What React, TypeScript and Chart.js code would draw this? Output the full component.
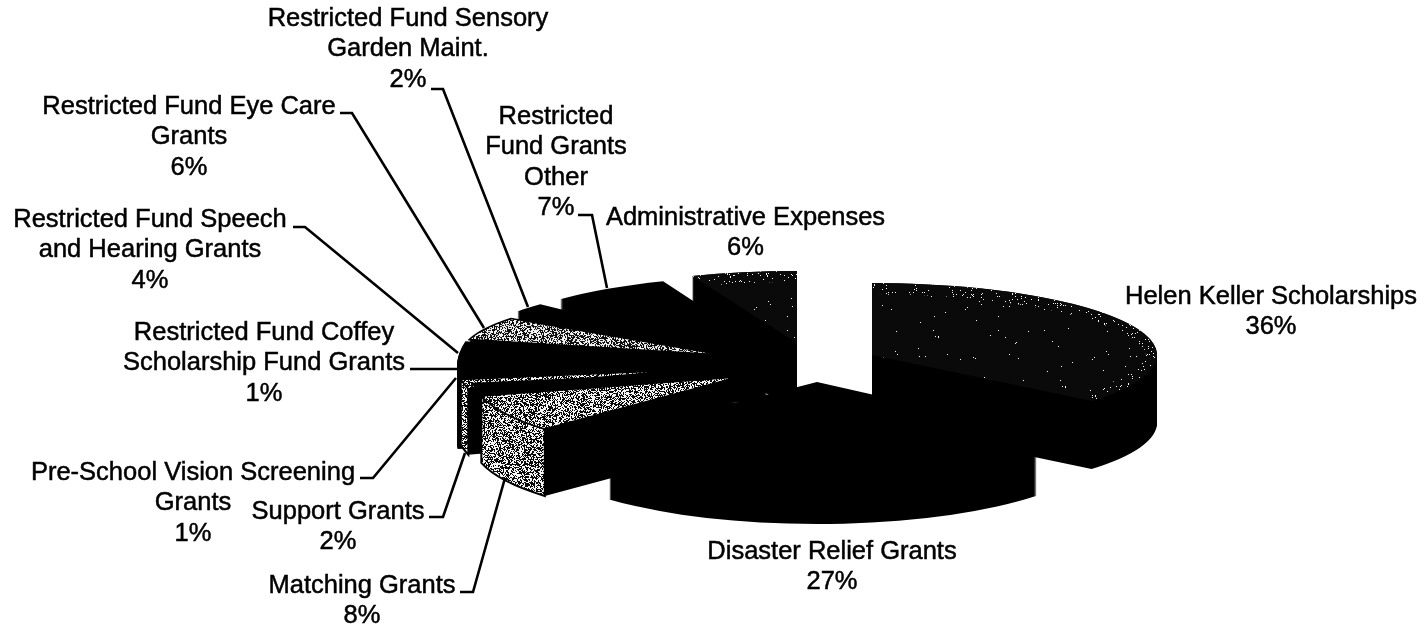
import React, { useEffect, useRef } from "react";
import { Chart, registerables } from "chart.js";

Chart.register(...registerables);

const categories = [
  "Helen Keller Scholarships", "Disaster Relief Grants", "Matching Grants", "Support Grants",
  "Pre-School Vision Screening Grants", "Restricted Fund Coffey Scholarship Fund Grants",
  "Restricted Fund Speech and Hearing Grants", "Restricted Fund Eye Care Grants",
  "Restricted Fund Sensory Garden Maint.", "Restricted Fund Grants Other", "Administrative Expenses",
];
const shares = [36, 27, 8, 2, 1, 1, 4, 6, 2, 7, 6];

// 3D look of every slice: apex, radii, extrusion depth, shear, fill kind
const sliceLook = [
  { ax: 872, ay: 355, rx: 285, ry: 72, depth: 68, shear: 0, fill: "sparse", rim: false },
  { ax: 817, ay: 382, rx: 285, ry: 78, depth: 64, shear: 0, fill: "black", rim: false },
  { ax: 738, ay: 377, rx: 265, ry: 76, depth: 67, shear: 0, fill: "grey", rim: true },
  { ax: 715, ay: 372, rx: 245, ry: 85, depth: 60, shear: 0, fill: "black", rim: false },
  { ax: 684, ay: 370, rx: 230, ry: 150, depth: 66, shear: 100, fill: "grey", rim: true },
  { ax: 725, ay: 369, rx: 268, ry: 160, depth: 70, shear: 0, fill: "black", rim: false },
  { ax: 725, ay: 366, rx: 268, ry: 100, depth: 20, shear: 0, fill: "black", rim: false },
  { ax: 723, ay: 355, rx: 262, ry: 62, depth: 20, shear: 0, fill: "grey", rim: false },
  { ax: 748, ay: 355, rx: 285, ry: 74, depth: 60, shear: 0, fill: "black", rim: false },
  { ax: 768, ay: 350, rx: 285, ry: 74, depth: 60, shear: 0, fill: "black", rim: false },
  { ax: 797, ay: 343, rx: 285, ry: 72, depth: 70, shear: 0, fill: "sparse", rim: false },
];
const drawOrder = [10, 9, 8, 7, 6, 5, 4, 3, 1, 2, 0];

const labelBlocks = [
  { lines: ["Helen Keller Scholarships", "36%"], cx: 1271, y: 297, leader: [] as number[][] },
  { lines: ["Disaster Relief Grants", "27%"], cx: 832, y: 552, leader: [] as number[][] },
  { lines: ["Matching Grants", "8%"], cx: 362, y: 586, leader: [[460, 592], [473, 592], [505, 478]] },
  { lines: ["Support Grants", "2%"], cx: 338, y: 512, leader: [[429, 517], [443, 517], [465, 453]] },
  { lines: ["Pre-School Vision Screening", "Grants", "1%"], cx: 193, y: 473, leader: [[360, 478], [373, 478], [456, 378]] },
  { lines: ["Restricted Fund Coffey", "Scholarship Fund Grants", "1%"], cx: 264, y: 333, leader: [[410, 369], [425, 369], [458, 369]] },
  { lines: ["Restricted Fund Speech", "and Hearing Grants", "4%"], cx: 150, y: 220, leader: [[293, 227], [305, 227], [458, 353]] },
  { lines: ["Restricted Fund Eye Care", "Grants", "6%"], cx: 189, y: 107, leader: [[340, 113], [352, 113], [484, 328]] },
  { lines: ["Restricted Fund Sensory", "Garden Maint.", "2%"], cx: 408, y: 19, leader: [[431, 89], [443, 89], [528, 307]] },
  { lines: ["Restricted", "Fund Grants", "Other", "7%"], cx: 556, y: 117, leader: [[578, 215], [592, 215], [607, 288]] },
  { lines: ["Administrative Expenses", "6%"], cx: 745.5, y: 218, leader: [] as number[][] },
];

const FONT = '25.5px "Liberation Sans", Arial, sans-serif';
const LINE_STEP = 30.3;

function noiseTile(ctx: CanvasRenderingContext2D, blackShare: number, salt: number) {
  const size = 211;
  const tile = document.createElement("canvas");
  tile.width = size;
  tile.height = size;
  const t = tile.getContext("2d")!;
  const img = t.createImageData(size, size);
  let s = salt;
  for (let i = 0; i < size * size; i++) {
    s = (s * 1103515245 + 12345) & 0x7fffffff;
    const v = (s >> 12) % 1000;
    const dark = v < blackShare * 1000;
    img.data[i * 4] = img.data[i * 4 + 1] = img.data[i * 4 + 2] = dark ? 10 : 245;
    img.data[i * 4 + 3] = 255;
  }
  t.putImageData(img, 0, 0);
  return ctx.createPattern(tile, "repeat")!;
}

export default function App() {
  const ref = useRef<HTMLCanvasElement>(null);
  useEffect(() => {
    document.body.style.margin = "0";
    const canvas = ref.current!;
    const c2d = canvas.getContext("2d")!;
    const grey = noiseTile(c2d, 0.5, 7);
    const sparse = noiseTile(c2d, 0.997, 11);
    const band = noiseTile(c2d, 0.96, 23);
    const fills = sliceLook.map((s) => (s.fill === "grey" ? grey : s.fill === "sparse" ? sparse : "#000"));

    const pie3d = {
      id: "pie3d",
      beforeDatasetsDraw(chart: any) {
        const ctx: CanvasRenderingContext2D = chart.ctx;
        const arcs = chart.getDatasetMeta(0).data;
        const tf = (i: number, drop: number) => {
          const s = sliceLook[i];
          const a = arcs[i];
          const R = a.outerRadius;
          const sx = s.rx / R, sy = s.ry / R, k = s.shear / R;
          ctx.setTransform(sx, 0, k, sy, s.ax - sx * a.x - k * a.y, s.ay + drop - sy * a.y);
        };
        const wedge = (i: number) => {
          const a = arcs[i];
          ctx.beginPath();
          ctx.moveTo(a.x, a.y);
          ctx.arc(a.x, a.y, a.outerRadius, a.startAngle, a.endAngle);
          ctx.closePath();
        };
        ctx.save();
        // extruded sides
        ctx.fillStyle = "#000";
        drawOrder.forEach((i) => {
          for (let d = sliceLook[i].depth; d >= 1; d--) {
            tf(i, d);
            wedge(i);
            ctx.fill();
          }
        });
        // patterned outer rims
        drawOrder.forEach((i) => {
          if (!sliceLook[i].rim) return;
          const a = arcs[i];
          ctx.beginPath();
          tf(i, 0);
          ctx.arc(a.x, a.y, a.outerRadius, a.startAngle, a.endAngle);
          tf(i, sliceLook[i].depth);
          ctx.arc(a.x, a.y, a.outerRadius, a.endAngle, a.startAngle, true);
          ctx.closePath();
          ctx.setTransform(1, 0, 0, 1, 0, 0);
          ctx.fillStyle = grey;
          grey.setTransform(new DOMMatrix());
          ctx.fill();
          ctx.strokeStyle = "#000";
          ctx.lineWidth = 2;
          ctx.stroke();
        });
        // top faces, through the library's arc element
        drawOrder.forEach((i) => {
          tf(i, 0);
          const f = fills[i];
          if (typeof f !== "string") f.setTransform(ctx.getTransform().inverse());
          arcs[i].draw(ctx);
          if (sliceLook[i].fill === "grey") {
            wedge(i);
            ctx.setTransform(1, 0, 0, 1, 0, 0);
            ctx.strokeStyle = "#000";
            ctx.lineWidth = 1.5;
            ctx.stroke();
          }
          if (sliceLook[i].fill === "sparse") {
            const a = arcs[i];
            ctx.save();
            wedge(i);
            ctx.clip();
            ctx.beginPath();
            ctx.arc(a.x, a.y, a.outerRadius, a.startAngle, a.endAngle);
            ctx.setTransform(1, 0, 0, 1, 0, 0);
            band.setTransform(new DOMMatrix());
            ctx.strokeStyle = band;
            ctx.lineWidth = 22;
            ctx.stroke();
            ctx.restore();
          }
        });
        ctx.setTransform(1, 0, 0, 1, 0, 0);
        ctx.restore();
        return false;
      },
      afterDraw(chart: any) {
        const ctx: CanvasRenderingContext2D = chart.ctx;
        ctx.save();
        ctx.fillStyle = "#000";
        ctx.strokeStyle = "#000";
        ctx.font = FONT;
        ctx.textAlign = "center";
        ctx.textBaseline = "middle";
        labelBlocks.forEach((b) => {
          ctx.lineWidth = 0.5;
          b.lines.forEach((t, n) => {
            ctx.fillText(t, b.cx, b.y + n * LINE_STEP);
            ctx.strokeText(t, b.cx, b.y + n * LINE_STEP);
          });
          if (b.leader.length) {
            ctx.lineWidth = 2.6;
            ctx.beginPath();
            b.leader.forEach((p, n) => (n ? ctx.lineTo(p[0], p[1]) : ctx.moveTo(p[0], p[1])));
            ctx.stroke();
          }
        });
        ctx.restore();
      },
    };

    const chart = new Chart(canvas, {
      type: "pie",
      data: {
        labels: categories,
        datasets: [{ data: shares, backgroundColor: fills as any, borderWidth: 0, radius: 285 } as any],
      },
      options: {
        responsive: false,
        animation: false,
        devicePixelRatio: 1,
        rotation: 0,
        layout: { padding: 0 },
        plugins: { legend: { display: false }, tooltip: { enabled: false } },
      },
      plugins: [pie3d as any],
    });
    return () => chart.destroy();
  }, []);
  return <canvas ref={ref} width={1428} height={630} style={{ display: "block", width: 1428, height: 630 }} />;
}
